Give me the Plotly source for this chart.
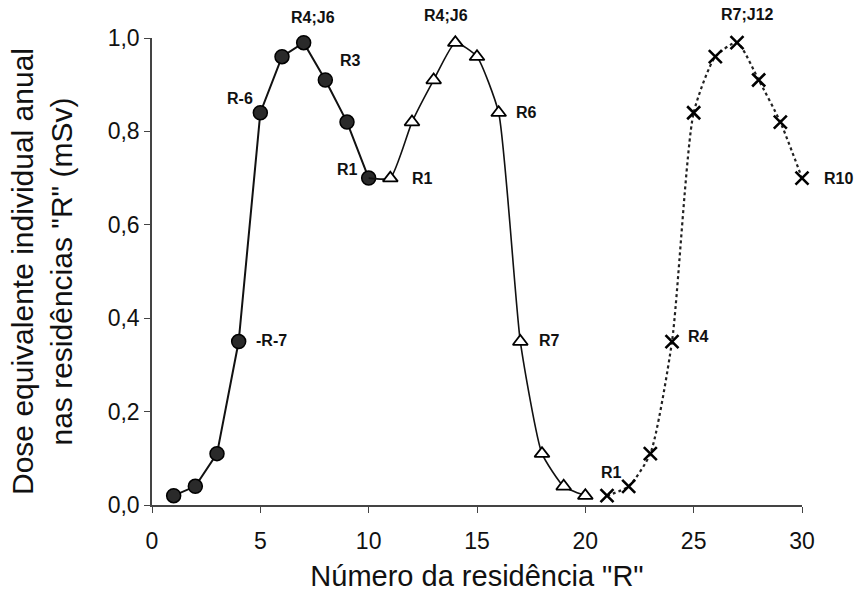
import plotly.graph_objects as go

# Annual individual equivalent dose per residence, three groups of residences
res_a = [1, 2, 3, 4, 5, 6, 7, 8, 9, 10]
dose_a = [0.02, 0.04, 0.11, 0.35, 0.84, 0.96, 0.99, 0.91, 0.82, 0.70]

res_b = [11, 12, 13, 14, 15, 16, 17, 18, 19, 20]
dose_b = [0.70, 0.82, 0.91, 0.99, 0.96, 0.84, 0.35, 0.11, 0.04, 0.02]

res_c = [21, 22, 23, 24, 25, 26, 27, 28, 29, 30]
dose_c = [0.02, 0.04, 0.11, 0.35, 0.84, 0.96, 0.99, 0.91, 0.82, 0.70]

# Point labels: (residence, dose, text, x shift px, y shift px downward)
point_labels = [
    (5, dose_a[4], "R-6", -20, -14),
    (4, dose_a[3], "-R-7", 33, -1),
    (7, dose_a[6], "R4;J6", 9, -25),
    (8, dose_a[7], "R3", 25, -20),
    (10, dose_a[9], "R1", -21, -9),
    (11, dose_b[0], "R1", 32, 0),
    (14, dose_b[3], "R4;J6", -9, -27),
    (16, dose_b[5], "R6", 28, 0),
    (17, dose_b[6], "R7", 29, -1),
    (21, dose_c[0], "R1", 4, -23),
    (24, dose_c[3], "R4", 26, -5),
    (27, dose_c[6], "R7;J12", 10, -28),
    (30, dose_c[9], "R10", 36, 0),
]

FONT = "Liberation Sans, Arial, sans-serif"

fig = go.Figure()

fig.add_trace(go.Scatter(
    x=res_a, y=dose_a, mode="lines+markers",
    line=dict(color="#111", width=2),
    marker=dict(symbol="circle", size=14, color="#2a2a2a",
                line=dict(color="#000", width=1.5)),
    cliponaxis=False, showlegend=False,
))

# second group, joined to the last point of the first group
fig.add_trace(go.Scatter(
    x=[res_a[-1]] + res_b, y=[dose_a[-1]] + dose_b, mode="lines",
    line=dict(color="#111", width=1.6, shape="spline", smoothing=0.5),
    cliponaxis=False, showlegend=False,
))
fig.add_trace(go.Scatter(
    x=res_b, y=dose_b, mode="markers",
    marker=dict(symbol="triangle-up", size=13, color="white",
                line=dict(color="#000", width=1.8)),
    cliponaxis=False, showlegend=False,
))

fig.add_trace(go.Scatter(
    x=res_c, y=dose_c, mode="lines",
    line=dict(color="#222", width=2.2, dash="dot", shape="spline", smoothing=0.6),
    cliponaxis=False, showlegend=False,
))
fig.add_trace(go.Scatter(
    x=res_c, y=dose_c, mode="markers",
    marker=dict(symbol="x-thin-open", size=13, color="#000",
                line=dict(color="#000", width=2.6)),
    cliponaxis=False, showlegend=False,
))

for rx, ry, txt, dx, dy in point_labels:
    fig.add_annotation(
        x=rx, y=ry, text=txt, showarrow=False, xshift=dx, yshift=-dy,
        font=dict(family=FONT, size=16, color="#111", weight="bold"),
    )

fig.update_layout(
    width=857, height=599,
    margin=dict(l=152, r=55, t=38, b=94),
    paper_bgcolor="white", plot_bgcolor="white",
    separators=", ",
    font=dict(family=FONT, color="#111"),
    xaxis=dict(
        range=[0, 30], tickvals=[0, 5, 10, 15, 20, 25, 30],
        showgrid=False, zeroline=False,
        showline=True, linecolor="#444", linewidth=1.5,
        ticks="outside", ticklen=6, tickcolor="#444",
        ticklabelstandoff=9,
        tickfont=dict(size=23, family=FONT),
        title=dict(text="Número da residência \"R\"",
                   font=dict(size=29, family=FONT), standoff=12),
    ),
    yaxis=dict(
        range=[0, 1.0], tickvals=[0, 0.2, 0.4, 0.6, 0.8, 1.0], tickformat=".1f",
        showgrid=False, zeroline=False,
        showline=True, linecolor="#444", linewidth=1.5,
        ticks="outside", ticklen=6, tickcolor="#444",
        tickfont=dict(size=23, family=FONT),
        title=dict(text="Dose equivalente individual anual<br>nas residências \"R\" (mSv)",
                   font=dict(size=30, family=FONT), standoff=26),
    ),
)

fig.write_html("out.html")
